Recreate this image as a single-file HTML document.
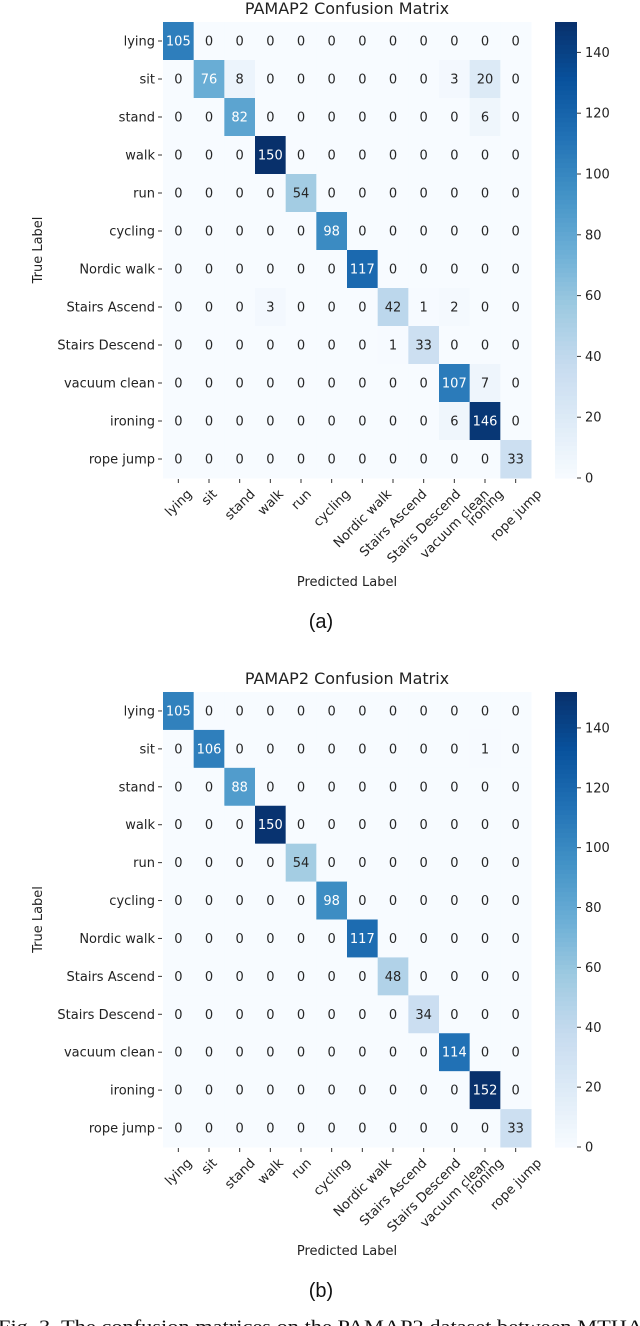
<!DOCTYPE html>
<html><head><meta charset="utf-8"><style>
body{margin:0;background:#fff;width:640px;height:1326px;overflow:hidden;position:relative}
svg{position:absolute;left:0;top:0}
text{font-family:"DejaVu Sans","Liberation Sans",sans-serif}
</style></head><body>
<svg id="chart" width="640" height="1326" viewBox="0 0 640 1326"></svg>
<script>
const classLabels=["lying","sit","stand","walk","run","cycling","Nordic walk","Stairs Ascend","Stairs Descend","vacuum clean","ironing","rope jump"];
const matrixA=[
[105,0,0,0,0,0,0,0,0,0,0,0],
[0,76,8,0,0,0,0,0,0,3,20,0],
[0,0,82,0,0,0,0,0,0,0,6,0],
[0,0,0,150,0,0,0,0,0,0,0,0],
[0,0,0,0,54,0,0,0,0,0,0,0],
[0,0,0,0,0,98,0,0,0,0,0,0],
[0,0,0,0,0,0,117,0,0,0,0,0],
[0,0,0,3,0,0,0,42,1,2,0,0],
[0,0,0,0,0,0,0,1,33,0,0,0],
[0,0,0,0,0,0,0,0,0,107,7,0],
[0,0,0,0,0,0,0,0,0,6,146,0],
[0,0,0,0,0,0,0,0,0,0,0,33]];
const matrixB=[
[105,0,0,0,0,0,0,0,0,0,0,0],
[0,106,0,0,0,0,0,0,0,0,1,0],
[0,0,88,0,0,0,0,0,0,0,0,0],
[0,0,0,150,0,0,0,0,0,0,0,0],
[0,0,0,0,54,0,0,0,0,0,0,0],
[0,0,0,0,0,98,0,0,0,0,0,0],
[0,0,0,0,0,0,117,0,0,0,0,0],
[0,0,0,0,0,0,0,48,0,0,0,0],
[0,0,0,0,0,0,0,0,34,0,0,0],
[0,0,0,0,0,0,0,0,0,114,0,0],
[0,0,0,0,0,0,0,0,0,0,152,0],
[0,0,0,0,0,0,0,0,0,0,0,33]];
const colorbarTicks=[0,20,40,60,80,100,120,140];

const NS="http://www.w3.org/2000/svg";
const svg=document.getElementById('chart');
const stops=[[247,251,255],[222,235,247],[198,219,239],[158,202,225],[107,174,214],[66,146,198],[33,113,181],[8,81,156],[8,48,107]];
function blues(t){t=Math.max(0,Math.min(1,t));const p=t*8,i=Math.min(7,Math.floor(p)),f=p-i;
 return stops[i].map((v,k)=>Math.round(v+(stops[i+1][k]-v)*f));}
function rgb(c){return `rgb(${c[0]},${c[1]},${c[2]})`;}
function lum(c){const l=c.map(v=>{v/=255;return v<=0.03928?v/12.92:Math.pow((v+0.055)/1.055,2.4)});return 0.2126*l[0]+0.7152*l[1]+0.0722*l[2];}
function el(tag,attrs,parent){const e=document.createElementNS(NS,tag);for(const k in attrs)e.setAttribute(k,attrs[k]);(parent||svg).appendChild(e);return e;}

function drawMatrix(data,top,bottom,tag,labelText){
 const g=el('g',{});
 
 
 const left=163,right=531,n=classLabels.length;
 const cw=(right-left)/n,ch=(bottom-top)/n;
 let vmax=0;data.forEach(r=>r.forEach(v=>{if(v>vmax)vmax=v;}));
 const xc=i=>left+cw*(i+0.5), yc=j=>top+ch*(j+0.5);
 const t=el('text',{x:347,y:top-8,'text-anchor':'middle','font-size':16,fill:'#222'},g);
 t.textContent='PAMAP2 Confusion Matrix';
 
 
 data.forEach((row,j)=>row.forEach((v,i)=>{
  const c=blues(v/vmax);
  const r=el('rect',{x:left+cw*i,y:top+ch*j,width:cw+0.5,height:ch+0.5,fill:rgb(c)},g);
  
  
  const tx=el('text',{x:xc(i),y:yc(j)+4.5,'text-anchor':'middle','font-size':13,fill:lum(c)<0.408?'#fff':'#262626'},g);
  tx.textContent=v;
  
  
 }));
 classLabels.forEach((lab,j)=>{
  el('line',{x1:158,x2:162,y1:yc(j),y2:yc(j),stroke:'#333','stroke-width':1},g);
  const tl=el('text',{x:155,y:yc(j)+4.5,'text-anchor':'end','font-size':13,fill:'#222'},g);
  tl.textContent=lab;
  
  
 });
 classLabels.forEach((lab,i)=>{
  el('line',{x1:xc(i),x2:xc(i),y1:bottom+1,y2:bottom+5,stroke:'#333','stroke-width':1},g);
  const tl=el('text',{x:0,y:0,'text-anchor':'middle','font-size':13,fill:'#222'},g);
  tl.textContent=lab;
  
  
  const w=tl.getComputedTextLength(),h=13;
  const bh=(w+h)/Math.SQRT2;
  const cx=xc(i),cy=bottom+9+bh/2;
  tl.setAttribute('x',cx);tl.setAttribute('y',cy+4.5);
  tl.setAttribute('transform',`rotate(-45 ${cx} ${cy})`);
 });
 const yt=el('text',{x:0,y:0,'text-anchor':'middle','font-size':13,fill:'#222',transform:`translate(42 ${(top+bottom)/2}) rotate(-90)`},g);
 yt.textContent='True Label';
 
 
 const xt=el('text',{x:347,y:bottom+108,'text-anchor':'middle','font-size':13,fill:'#222'},g);
 xt.textContent='Predicted Label';
 
 
 const cbx=555,cbw=22,steps=100;
 for(let s=0;s<steps;s++){
  const r=el('rect',{x:cbx,y:top+(bottom-top)*s/steps,width:cbw,height:(bottom-top)/steps+0.6,fill:rgb(blues(1-(s+0.5)/steps))},g);
  
  
 }
 colorbarTicks.forEach(v=>{
  const y=bottom-(bottom-top)*v/vmax;
  el('line',{x1:cbx+cbw,x2:cbx+cbw+4,y1:y,y2:y,stroke:'#333','stroke-width':1},g);
  const tl=el('text',{x:cbx+cbw+8,y:y+4.5,'font-size':13,fill:'#222'},g);
  tl.textContent=v;
  
  
 });
 const sub=el('text',{x:321,y:bottom+150,'text-anchor':'middle','font-size':20,fill:'#111',style:'font-family:"Liberation Sans",sans-serif'},g);
 sub.textContent=labelText;
 
 
}
drawMatrix(matrixA,22,478,'a','(a)');
drawMatrix(matrixB,692,1147,'b','(b)');
const cap=el('text',{x:-2,y:1333,'font-size':19,fill:'#111',style:'font-family:"Liberation Serif",serif',textLength:660,lengthAdjust:'spacingAndGlyphs'});
cap.textContent='Fig. 3.   The confusion matrices on the PAMAP2 dataset between MTHAR';


</script>
</body></html>
